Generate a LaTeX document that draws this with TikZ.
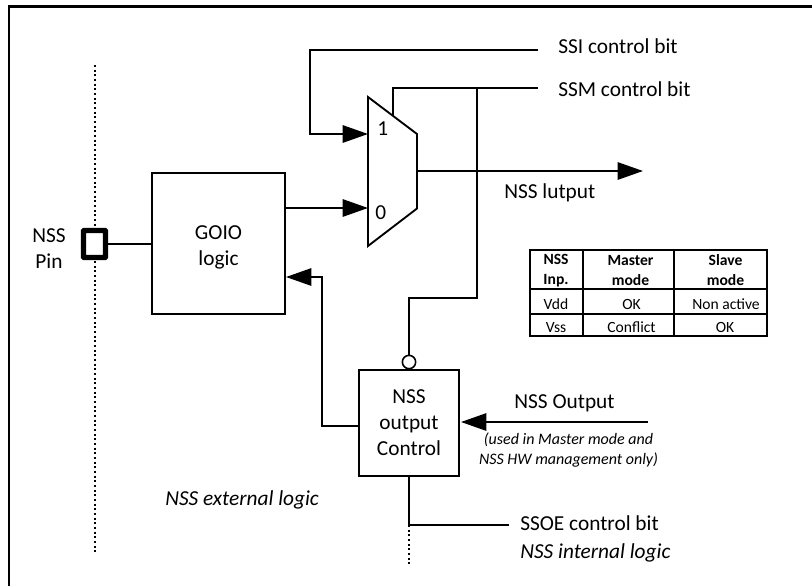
\documentclass[tikz,border=0pt]{standalone}
\usepackage{fontspec}
\setmainfont{Carlito}
\usetikzlibrary{arrows.meta}
\tikzset{
  x=0.75pt,y=-0.75pt,
  wire/.style={draw=black,line width=1.4pt},
  tip/.style={-{Triangle[length=19pt,width=13pt]}},
  block/.style={draw=black,line width=1.4pt,fill=white,inner sep=0pt,align=center,font=\fontsize{16pt}{19.5pt}\selectfont},
  lbl/.style={inner sep=0pt,anchor=west,font=\fontsize{16pt}{19pt}\selectfont},
  note/.style={inner sep=0pt,align=center,font=\fontsize{12pt}{14.5pt}\selectfont\itshape},
  cell/.style={inner sep=0pt,align=center,font=\fontsize{11.7pt}{15pt}\selectfont},
  head/.style={cell,font=\fontsize{11.7pt}{15pt}\selectfont\bfseries},
  dots/.style={draw=black,line width=1.1pt,dash pattern=on 1.5pt off 2pt},
  rule/.style={draw=black,line width=1.7pt},
}
\begin{document}
\begin{tikzpicture}
\useasboundingbox (0,0) rectangle (812,586);
\coordinate (fa) at (9,586);
\coordinate (fb) at (9,6.5);
\coordinate (fc) at (812,6.5);
\draw[line width=1.6pt] (fa) -- (fb) -- (fc);
% boundary
\coordinate (dtop) at (95,65);
\coordinate (dbot) at (95,555);
\draw[dots] (dtop) -- (dbot);
% blocks
\node[block,minimum width=99.75pt,minimum height=105.75pt] (gpio) at (218.5,243.5) {};
\node[inner sep=0pt,align=center,font=\fontsize{16pt}{19.5pt}\selectfont] (gpiot) at (218.5,247.5) {GOIO\\logic};
\node[block,minimum width=75pt,minimum height=79.5pt] (ctrl) at (409,423) {NSS\\output\\Control};
\node[draw=black,line width=3.9pt,fill=white,rounded corners=0.5pt,minimum width=16.5pt,minimum height=20.25pt,inner sep=0pt] (pin) at (94.5,244) {};
\node[inner sep=0pt,align=center,font=\fontsize{16pt}{19.5pt}\selectfont] (pinl) at (49,249) {NSS\\Pin};
% mux
\draw[wire,fill=white] (368,97) coordinate (ma) -- (417,134) coordinate (mb) -- (417,208.5) coordinate (mc) -- (368,246) coordinate (md) -- cycle;
\node[lbl] (one) at (377,129) {1};
\node[lbl] (zero) at (375,213) {0};
\coordinate (min1) at (368,134);
\coordinate (min0) at (368,208);
\coordinate (mout) at (417,171);
\coordinate (msel) at (393,115.5);
% free ends
\coordinate (ssiE) at (538,50);
\coordinate (ssmE) at (538,88);
\coordinate (outE) at (643,171);
\coordinate (soE) at (648,422);
\coordinate (ssoeE) at (509,525);
\coordinate (ssoeJ) at (409,525);
\coordinate (ddot) at (409,564);
\coordinate (jn) at (477,88);
\coordinate (bubT) at (409,355);
% connectors
\draw[wire] (pin.east) -- (pin.east -| gpio.west);
\draw[wire,tip] (gpio.east |- min0) -- (min0);
\draw[wire,tip] (ssiE) -- (310,50) -- (310,134) -- (min1);
\draw[wire] (msel) -- (393,88) -- (ssmE);
\draw[wire,tip] (mout) -- (outE);
\draw[wire] (jn) -- (477,298) -- (409,298) -- (bubT);
\node[draw=black,line width=1.2pt,fill=white,circle,minimum size=10pt,inner sep=0pt] (bub) at (409,362) {};
\draw[wire,tip] (ctrl.west |- 0,426) -- (322,426) -- (322,277) -- (286,277);
\draw[wire,tip] (soE) -- (461,422);
\draw[wire] (ctrl.south) -- (ssoeJ) -- (ssoeE);
\draw[dots] (ssoeJ) -- (ddot);
% labels
\node[lbl] (l1) at (558,46) {SSI control bit};
\node[lbl] (l2) at (558,89) {SSM control bit};
\node[lbl] (l3) at (504,192.5) {NSS lutput};
\node[anchor=center,inner sep=0pt,font=\fontsize{16pt}{19pt}\selectfont] (l4) at (564.5,403) {NSS Output};
\node[note] (l5) at (568.5,450) {(used in Master mode and\\NSS HW management only)};
\node[lbl] (l6) at (520,523) {SSOE control bit};
\node[lbl,font=\fontsize{16pt}{19pt}\selectfont\itshape] (l7) at (520,552.5) {NSS internal logic};
\node[lbl,font=\fontsize{16pt}{19pt}\selectfont\itshape] (l8) at (165,500) {NSS external logic};
% table
\draw[rule] (530,250) rectangle (767,336);
\draw[rule] (583,250) -- (583,336) (674,250) -- (674,336);
\draw[rule] (530,289) -- (767,289) (530,314) -- (767,314);
\node[head] (t1) at (556,270.5) {NSS\\Inp.};
\node[head] (t2) at (630.5,270.5) {Master\\mode};
\node[head] (t3) at (725.5,270.5) {Slave\\mode};
\node[cell] (t4) at (556,304.5) {Vdd};
\node[cell] (t5) at (631.5,304.5) {OK};
\node[cell] (t6) at (726,304.5) {Non active};
\node[cell] (t7) at (556,327.5) {Vss};
\node[cell] (t8) at (631.5,327.5) {Conflict};
\node[cell] (t9) at (725,327.5) {OK};
\end{tikzpicture}
\end{document}
